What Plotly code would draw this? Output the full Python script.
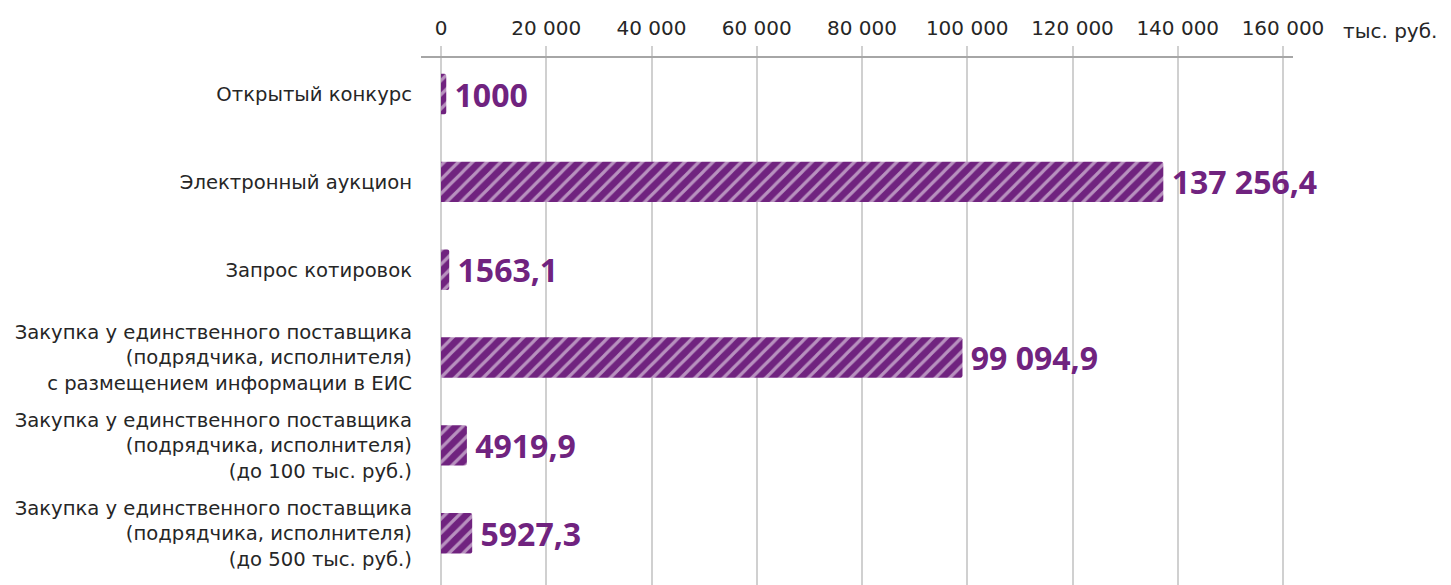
import plotly.graph_objects as go

categories = [
    "Открытый конкурс",
    "Электронный аукцион",
    "Запрос котировок",
    "Закупка у единственного поставщика<br>(подрядчика, исполнителя)<br>с размещением информации в ЕИС",
    "Закупка у единственного поставщика<br>(подрядчика, исполнителя)<br>(до 100 тыс. руб.)",
    "Закупка у единственного поставщика<br>(подрядчика, исполнителя)<br>(до 500 тыс. руб.)",
]
values = [1000, 137256.4, 1563.1, 99094.9, 4919.9, 5927.3]
value_labels = ["1000", "137 256,4", "1563,1", "99 094,9", "4919,9", "5927,3"]
tick_values = [0, 20000, 40000, 60000, 80000, 100000, 120000, 140000, 160000]
tick_labels = ["0", "20 000", "40 000", "60 000", "80 000", "100 000", "120 000", "140 000", "160 000"]
unit_label = "тыс. руб."

PURPLE = "#70237f"
TEXT = "#262626"

fig = go.Figure(
    go.Bar(
        x=values,
        y=categories,
        orientation="h",
        text=["\u2009" + t for t in value_labels],
        textposition="outside",
        constraintext="none",
        cliponaxis=False,
        textfont=dict(family="Open Sans", size=32, color=PURPLE, weight="bold"),
        marker=dict(
            color=PURPLE,
            line=dict(width=0),
            pattern=dict(shape="/", bgcolor=PURPLE, fgcolor="white", size=10, solidity=0.32),
        ),
        width=0.46,
    )
)

fig.update_layout(
    width=1443,
    height=577,
    margin=dict(l=413, r=158, t=50, b=0, autoexpand=False),
    plot_bgcolor="white",
    paper_bgcolor="white",
    showlegend=False,
    barcornerradius=2,
    xaxis=dict(
        side="top",
        automargin=False,
        range=[-3800, 161900],
        tickvals=tick_values,
        ticktext=tick_labels,
        showgrid=True,
        gridcolor="#d0d0d0",
        gridwidth=1.5,
        zeroline=False,
        showline=True,
        linecolor="#a6a6a6",
        linewidth=2,
        ticks="outside",
        ticklen=10,
        tickwidth=1.5,
        tickcolor="#d0d0d0",
        ticklabelstandoff=3,
        tickfont=dict(family="DejaVu Sans", size=20, color=TEXT),
    ),
    yaxis=dict(
        automargin=False,
        categoryorder="array",
        categoryarray=categories,
        range=[5.59, -0.41],
        showgrid=False,
        zeroline=False,
        showline=False,
        ticks="",
        ticklabelstandoff=8,
        tickfont=dict(family="DejaVu Sans", size=19.6, color=TEXT),
    ),
    annotations=[
        dict(
            text=unit_label,
            xref="paper",
            yref="paper",
            x=1.0,
            y=1.0,
            xanchor="left",
            yanchor="bottom",
            xshift=48,
            yshift=13,
            showarrow=False,
            font=dict(family="DejaVu Sans", size=20, color=TEXT),
        )
    ],
)

fig.write_html("out.html")
